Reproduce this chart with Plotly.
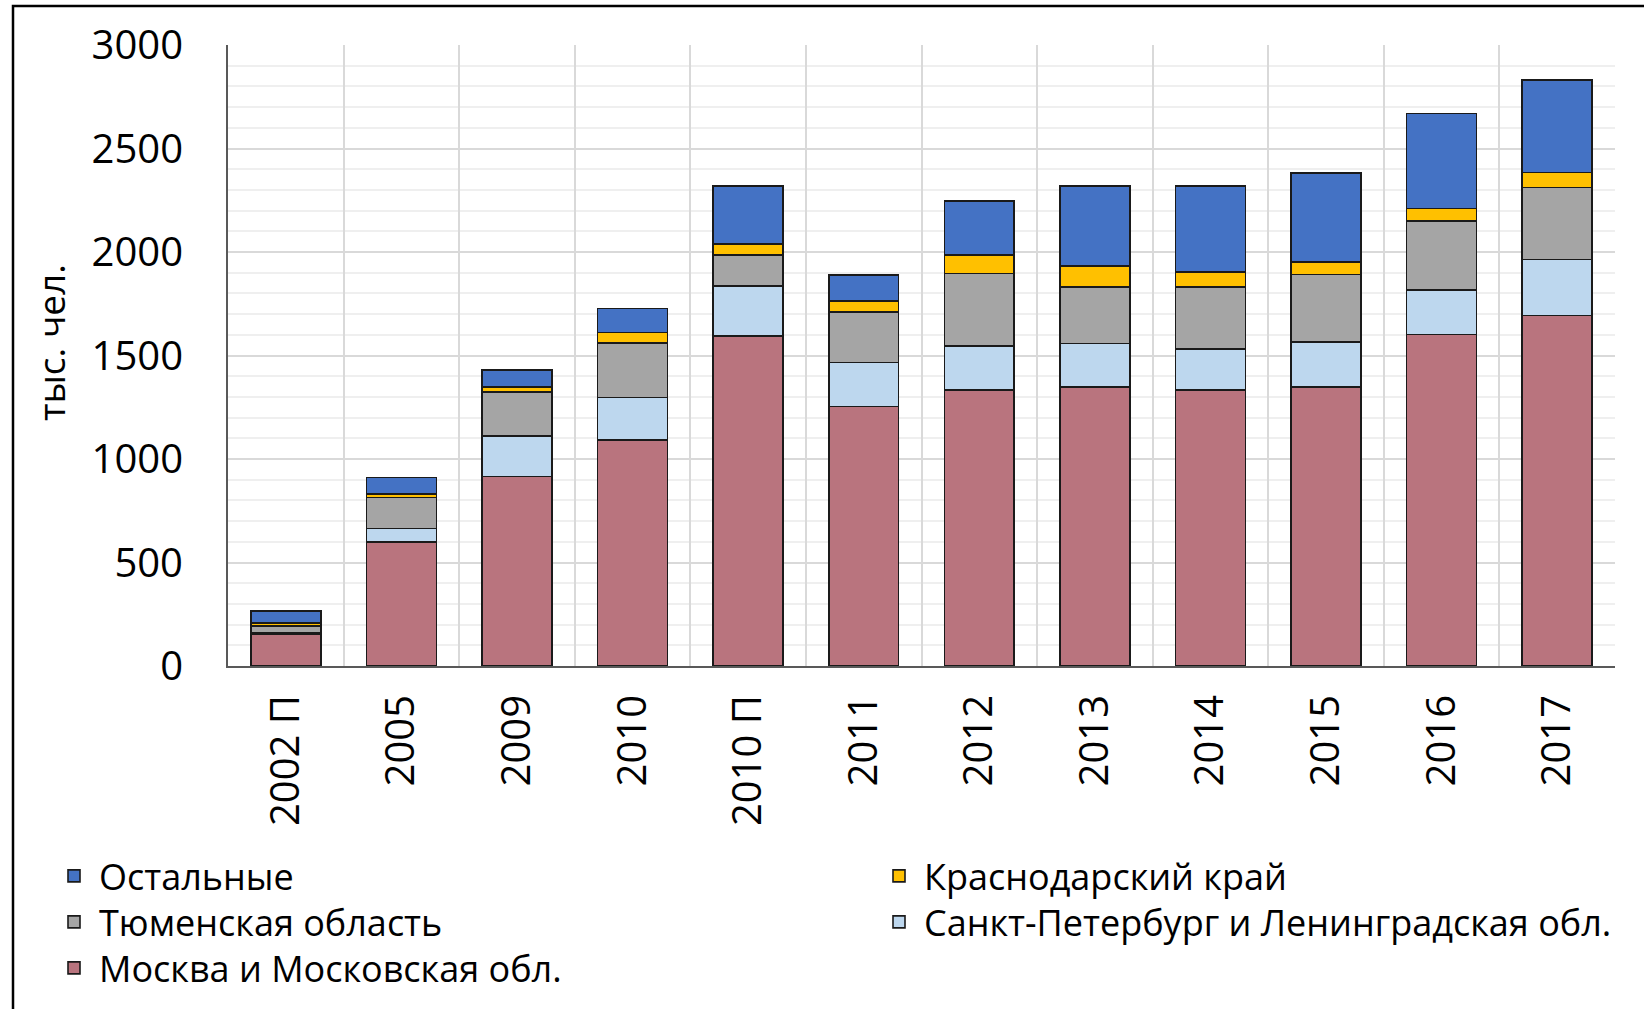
import plotly.graph_objects as go

categories = ["2002 П", "2005", "2009", "2010", "2010 П", "2011",
              "2012", "2013", "2014", "2015", "2016", "2017"]
moscow = [155, 600, 915, 1092, 1594, 1253, 1333, 1349, 1333, 1349, 1602, 1693]
spb = [7, 64, 196, 206, 242, 214, 214, 209, 198, 217, 215, 270]
tyumen = [30, 150, 214, 261, 150, 242, 349, 274, 301, 325, 334, 349]
krasnodar = [15, 17, 22, 53, 53, 53, 89, 100, 72, 62, 60, 72]
others = [60, 80, 84, 116, 280, 126, 261, 386, 414, 430, 459, 447]

# name, values, colour, legend id
series = [
    ("Москва и Московская обл.", moscow, "#B9747E", "legend5"),
    ("Санкт-Петербург и Ленинградская обл.", spb, "#BDD7EE", "legend4"),
    ("Тюменская область", tyumen, "#A5A5A5", "legend3"),
    ("Краснодарский край", krasnodar, "#FFC000", "legend2"),
    ("Остальные", others, "#4472C4", "legend"),
]

FONT = "Open Sans, DejaVu Sans, sans-serif"

fig = go.Figure()
for name, vals, color, leg in series:
    fig.add_trace(go.Bar(
        x=categories, y=vals, name=name, legend=leg, showlegend=True,
        marker=dict(color=color, line=dict(color="#1a1a1a", width=1.6)),
    ))

L, R, T, B = 228, 29, 45, 343
W, H = 1644, 1009
pw, ph = W - L - R, H - T - B

def px(x):
    return (x - L) / pw

def py(y):
    return (H - B - y) / ph

leg_common = dict(
    orientation="v", xanchor="left", yanchor="top",
    font=dict(family=FONT, size=36, color="#000000"),
    bgcolor="rgba(0,0,0,0)", itemwidth=40, visible=True,
)
col1, col2 = px(49), px(874)
rows = [py(846), py(892), py(938)]

fig.update_layout(
    width=W, height=H, showlegend=True,
    margin=dict(l=L, r=R, t=T, b=B, autoexpand=False),
    barmode="stack", bargap=0.395,
    plot_bgcolor="white", paper_bgcolor="white",
    font=dict(family=FONT, size=40, color="#000000"),
    legend=dict(x=col1, y=rows[0], **leg_common),
    legend2=dict(x=col2, y=rows[0], **leg_common),
    legend3=dict(x=col1, y=rows[1], **leg_common),
    legend4=dict(x=col2, y=rows[1], **leg_common),
    legend5=dict(x=col1, y=rows[2], **leg_common),
    xaxis=dict(
        type="category", tickson="boundaries", tickangle=-90,
        showgrid=True, gridcolor="#D9D9D9", gridwidth=2,
        showline=True, linecolor="#595959", linewidth=2,
        ticks="", ticklabelstandoff=11,
        tickfont=dict(family=FONT, size=40),
    ),
    yaxis=dict(
        range=[0, 3000], dtick=500, tick0=0,
        showgrid=True, gridcolor="#D9D9D9", gridwidth=2,
        minor=dict(dtick=100, showgrid=True, gridcolor="#EFEFEF", gridwidth=2),
        showline=True, linecolor="#595959", linewidth=2,
        ticks="", ticklabelstandoff=35, zeroline=False,
        tickfont=dict(family=FONT, size=40),
    ),
    annotations=[dict(
        text="тыс. чел.", xref="paper", yref="paper",
        x=px(50), y=py(343), xanchor="center", yanchor="middle",
        textangle=-90, showarrow=False,
        font=dict(family=FONT, size=37, color="#000000"),
    )],
    shapes=[dict(
        type="rect", xref="paper", yref="paper",
        x0=px(13), x1=px(1660), y0=py(1030), y1=py(6),
        line=dict(color="#000000", width=2.5), fillcolor="rgba(0,0,0,0)",
        layer="above",
    )],
)

fig.write_html("out.html", config={"displayModeBar": False},
               post_script="document.body.style.margin='0';")
